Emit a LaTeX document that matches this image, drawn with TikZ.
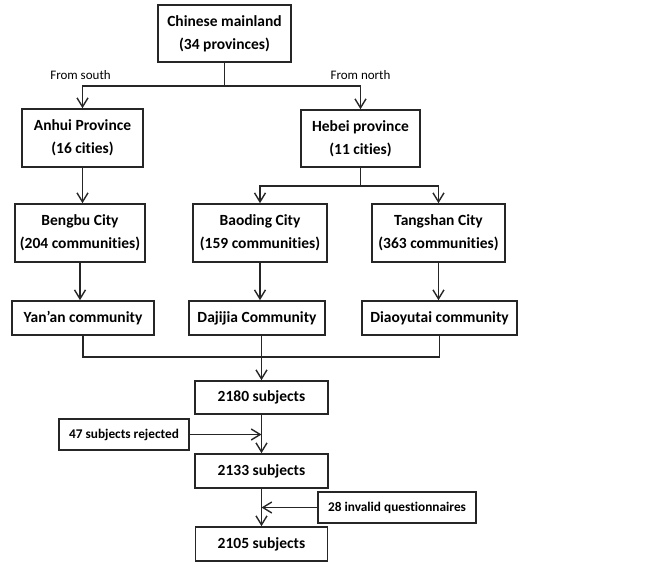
\documentclass[tikz,border=0pt]{standalone}
\usepackage{fontspec}
\setmainfont{Carlito}[Ligatures=NoCommon, RawFeature={-liga;-clig}]
\usetikzlibrary{arrows.meta, positioning}

\tikzset{
  box/.style={draw=black!85, line width=1.6pt, align=center, inner sep=0pt,
    font=\fontsize{15.5}{23}\selectfont\bfseries},
  sidebox/.style={box, font=\fontsize{13.3}{16}\selectfont\bfseries},
  link/.style={-{Straight Barb[length=9pt,width=11pt,line width=1.4pt]}, line width=1.7pt, draw=black!85},
  joint/.style={line width=1.7pt, draw=black!85},
  tag/.style={font=\fontsize{13}{15}\selectfont}
}

\begin{document}
\begin{tikzpicture}[x=1pt, y=-1pt]
    \useasboundingbox (0,0) rectangle (654,569);

    % Top level
    \node[box, minimum width=133pt, minimum height=57pt] (mainland) at (224.5,33.5) {Chinese mainland\\(34 provinces)};

    % Provinces
    \node[box, minimum width=121pt, minimum height=58pt] (anhui) at (82.5,138) {Anhui Province\\(16 cities)};
    \node[box, minimum width=119pt, minimum height=57pt] (hebei) at (360.5,138.5) {Hebei province\\(11 cities)};

    % Cities
    \node[box, minimum width=130pt, minimum height=58pt] (bengbu) at (80,233) {Bengbu City\\(204 communities)};
    \node[box, minimum width=134pt, minimum height=58pt] (baoding) at (260,233) {Baoding City\\(159 communities)};
    \node[box, minimum width=133pt, minimum height=58pt] (tangshan) at (438.5,233) {Tangshan City\\(363 communities)};

    % Communities
    \node[box, minimum width=142pt, minimum height=34pt] (yanan) at (83,318) {Yan'an community};
    \node[box, minimum width=136pt, minimum height=34pt] (dajijia) at (257,318) {Dajijia Community};
    \node[box, minimum width=155pt, minimum height=34pt] (diaoyutai) at (439.5,318) {Diaoyutai community};

    % Subjects
    \node[box, minimum width=133pt, minimum height=33pt] (s2180) at (261.5,397.5) {2180 subjects};
    \node[box, minimum width=133pt, minimum height=34pt] (s2133) at (261.5,471) {2133 subjects};
    \node[box, minimum width=132pt, minimum height=34pt] (s2105) at (261.5,544) {2105 subjects};

    % Exclusions
    \node[sidebox, minimum width=130pt, minimum height=31pt] (rejected) at (124,434.5) {47 subjects rejected};
    \node[sidebox, minimum width=158pt, minimum height=31pt] (invalid) at (397,507.5) {28 invalid questionnaires};

    % Branching
    \coordinate (split) at (224.5,86);
    \draw[joint] (mainland.south) -- (split);
    \draw[link] (split) -| (anhui.north);
    \draw[link] (split) -| (hebei.north);
    \node[tag] at (80.5,75) {From south};
    \node[tag] at (360.5,75) {From north};

    \coordinate (hsplit) at (360.5,186);
    \draw[joint] (hebei.south) -- (hsplit);
    \draw[link] (hsplit) -| (baoding.north);
    \draw[link] (hsplit) -| (tangshan.north);
    \draw[link] (anhui.south) -- (anhui.south |- bengbu.north);

    \draw[link] (bengbu.south) -- (bengbu.south |- yanan.north);
    \draw[link] (baoding.south) -- (baoding.south |- dajijia.north);
    \draw[link] (tangshan.south) -- (tangshan.south |- diaoyutai.north);

    % Merging
    \coordinate (merge) at (261.5,357);
    \draw[joint] (yanan.south) |- (merge) -| (diaoyutai.south);
    \draw[link] (s2180.north |- dajijia.south) -- (s2180.north);

    \draw[link] (s2180.south) -- (s2133.north);
    \draw[link] (s2133.south) -- (s2105.north);
    \draw[link] (rejected.east) -- (rejected.east -| s2180.south);
    \draw[link] (invalid.west) -- (invalid.west -| s2133.south);
\end{tikzpicture}
\end{document}
